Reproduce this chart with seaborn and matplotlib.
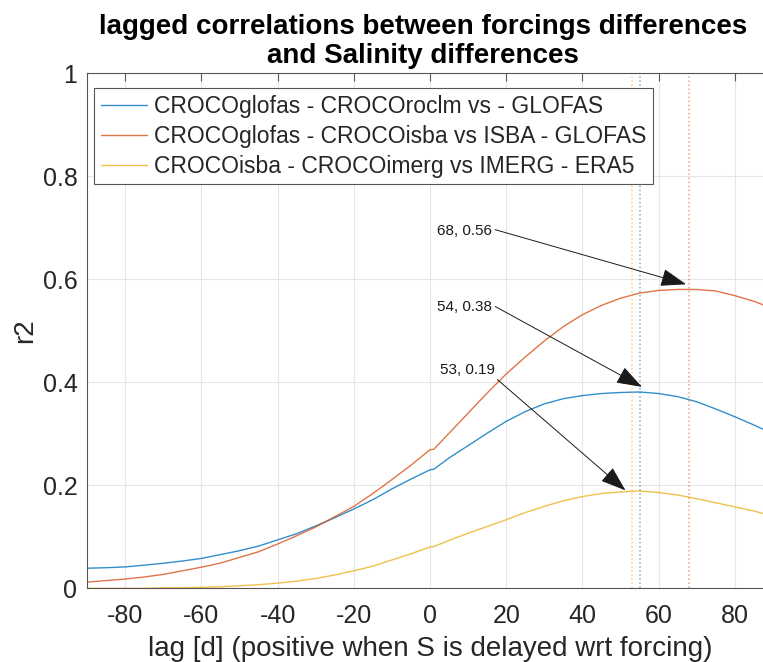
import numpy as np
import pandas as pd
import matplotlib
matplotlib.use("Agg")
import matplotlib.pyplot as plt
import seaborn as sns

# lag in days
lags = [-90, -85, -80, -75, -70, -65, -60, -55, -50, -45, -40, -35, -30, -25, -20, -15, -10, -5,
        0, 1, 5, 10, 15, 20, 25, 30, 35, 40, 45, 50, 55, 60, 65, 70, 75, 80, 85, 90]

# r2 values per lag
r2_roclm = [0.039, 0.040, 0.0415, 0.045, 0.0486, 0.053, 0.058, 0.0655, 0.073, 0.082, 0.094, 0.106,
            0.121, 0.137, 0.154, 0.172, 0.193, 0.212,
            0.230, 0.231, 0.253, 0.277, 0.301, 0.324, 0.343, 0.358, 0.368, 0.374, 0.378, 0.380,
            0.381, 0.378, 0.372, 0.362, 0.348, 0.333, 0.317, 0.300]
r2_isba = [0.012, 0.015, 0.018, 0.022, 0.027, 0.034, 0.041, 0.049, 0.060, 0.071, 0.086, 0.102,
           0.119, 0.139, 0.159, 0.184, 0.211, 0.239,
           0.269, 0.270, 0.301, 0.340, 0.379, 0.416, 0.449, 0.480, 0.508, 0.531, 0.549, 0.563,
           0.573, 0.578, 0.580, 0.580, 0.577, 0.568, 0.557, 0.543]
r2_imerg = [0.000, 0.000, 0.000, 0.000, 0.001, 0.001, 0.002, 0.003, 0.005, 0.007, 0.010, 0.014,
            0.019, 0.026, 0.034, 0.043, 0.055, 0.067,
            0.080, 0.081, 0.093, 0.107, 0.120, 0.133, 0.147, 0.159, 0.170, 0.178, 0.184, 0.187,
            0.189, 0.186, 0.181, 0.174, 0.166, 0.158, 0.150, 0.140]

series_names = ["CROCOglofas - CROCOroclm vs - GLOFAS",
                "CROCOglofas - CROCOisba vs ISBA - GLOFAS",
                "CROCOisba - CROCOimerg vs IMERG - ERA5"]
peak_lags = [55, 68, 53]
peak_labels = ["54, 0.38", "68, 0.56", "53, 0.19"]

colors = ["#0072BD", "#D95319", "#EDB120"]

sns.set_theme(style="white")
plt.rcParams['font.family'] = ['Liberation Sans', 'DejaVu Sans']
plt.rcParams['axes.unicode_minus'] = False

fig = plt.figure(figsize=(7.63, 6.62), dpi=100)
ax = fig.add_axes([0.1142, 0.1113, 0.8988, 0.7784])

# grid first so it sits below the curves
ax.set_axisbelow(True)
ax.grid(True, color="#e6e6e6", linewidth=0.8)

for vals, name, c in zip([r2_roclm, r2_isba, r2_imerg], series_names, colors):
    sns.lineplot(x=lags, y=vals, label=name, color=c, linewidth=1.0, alpha=0.8, ax=ax)

for pl, c in zip(peak_lags, colors):
    ax.axvline(pl, color=c, linestyle=":", linewidth=1.1, alpha=0.55)

# annotations (text position, arrow tail, arrow tip) in data coords
notes = [
    (peak_labels[1], (1.75, 0.694), (17.1, 0.696), (67.2, 0.590)),
    (peak_labels[0], (1.75, 0.545), (17.1, 0.547), (55.6, 0.391)),
    (peak_labels[2], (2.6, 0.423), (17.7, 0.405), (51.3, 0.190)),
]
for txt, tpos, tail, tip in notes:
    ax.text(tpos[0], tpos[1], txt, ha="left", va="center", fontsize=11, color="#1a1a1a")
    ax.annotate("", xy=tip, xytext=tail,
                arrowprops=dict(arrowstyle="-|>,head_length=0.8,head_width=0.28",
                                color="#1a1a1a", lw=0.7, mutation_scale=20,
                                shrinkA=0, shrinkB=0))

ax.set_xlim(-90, 90)
ax.set_ylim(0, 1)
ax.set_xticks(np.arange(-80, 81, 20))
ax.set_yticks(np.arange(0, 1.01, 0.2))
ax.set_yticklabels(["0", "0.2", "0.4", "0.6", "0.8", "1"])

ax.tick_params(axis="both", direction="in", length=6, width=0.8, color="#555555",
               labelsize=18, labelcolor="#262626", top=True, right=True)
ax.tick_params(axis="x", pad=11)
ax.tick_params(axis="y", pad=7)
for s in ax.spines.values():
    s.set_color("#555555")
    s.set_linewidth(0.8)

ax.set_xlabel("lag [d] (positive when S is delayed wrt forcing)", fontsize=20, color="#262626", labelpad=6)
ax.set_ylabel("r2", fontsize=20, color="#262626", labelpad=3)
ax.set_title("lagged correlations between forcings differences\nand Salinity differences",
             fontsize=20, fontweight="bold", x=0.49, pad=7, linespacing=1.18, color="black")

leg = ax.legend(loc="upper left", bbox_to_anchor=(0.010, 0.971), borderaxespad=0,
                fontsize=16.5, handlelength=2.0, handletextpad=0.3, labelspacing=0.3,
                borderpad=0.3, fancybox=False, framealpha=1, edgecolor="#555555")
leg.get_frame().set_linewidth(0.8)

fig.savefig("out.png", dpi=100)
